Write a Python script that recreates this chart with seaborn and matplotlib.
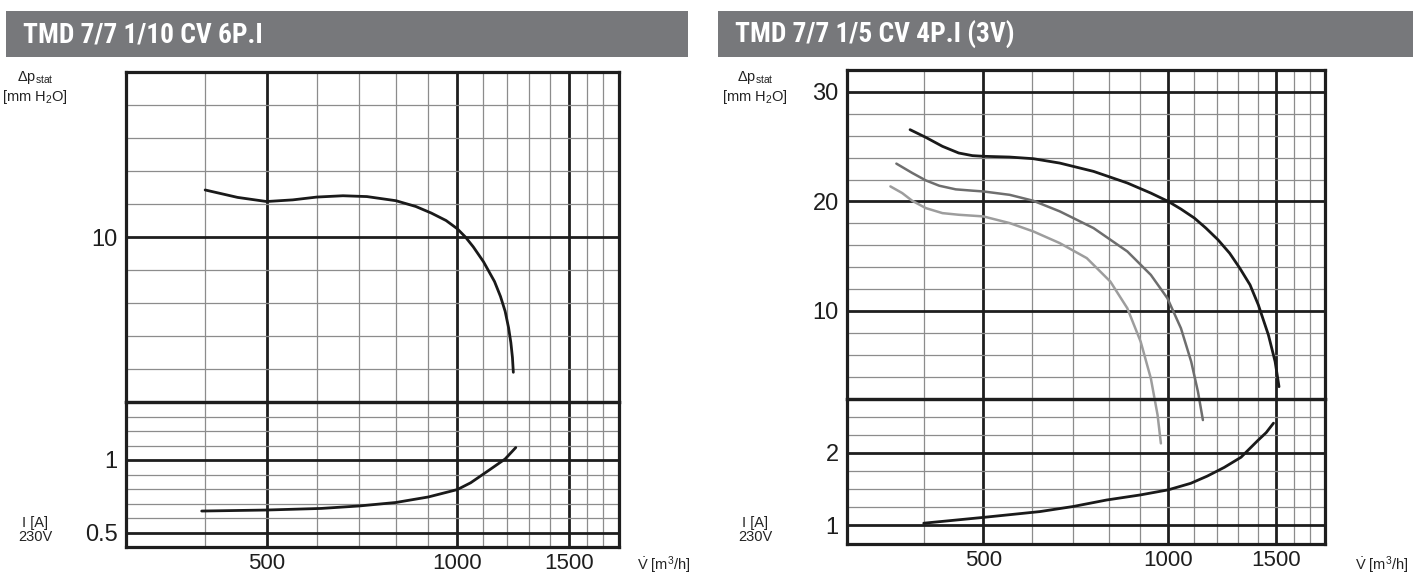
import matplotlib
matplotlib.use("Agg")
import matplotlib.pyplot as plt
from matplotlib import font_manager
from matplotlib.patches import Rectangle
from matplotlib.ticker import NullFormatter
import seaborn as sns

# ---- data -----------------------------------------------------------------
# TMD 7/7 1/10 CV 6P.I
left_flow_p = [400, 450, 500, 550, 600, 660, 720, 800, 860, 910, 960, 1000,
               1030, 1060, 1100, 1145, 1170, 1190, 1205, 1215, 1222, 1226]
left_press = [12.85, 12.4, 12.15, 12.25, 12.42, 12.5, 12.45, 12.2, 11.85, 11.45,
              11.0, 10.5, 10.0, 9.4, 8.5, 7.3, 6.4, 5.5, 4.5, 3.6, 2.7, 1.8]
left_flow_i = [395, 500, 610, 700, 800, 900, 1000, 1050, 1120, 1190, 1237]
left_current = [0.648, 0.655, 0.666, 0.683, 0.707, 0.745, 0.796, 0.843, 0.927,
                1.007, 1.086]

# TMD 7/7 1/5 CV 4P.I (3V) - three speeds
right_flow_hi = [380, 403, 429, 456, 480, 500, 552, 603, 666, 756, 858, 937,
                 1000, 1049, 1103, 1152, 1205, 1259, 1308, 1359, 1402, 1456,
                 1493, 1515]
right_press_hi = [26.55, 25.85, 25.03, 24.42, 24.18, 24.12, 24.05, 23.9, 23.5,
                  22.74, 21.68, 20.76, 20.0, 19.3, 18.48, 17.56, 16.5, 15.27,
                  13.9, 12.38, 10.55, 7.8, 5.37, 3.08]
right_flow_mid = [361, 383, 403, 424, 451, 480, 500, 552, 603, 666, 756, 858,
                  937, 997, 1049, 1090, 1118, 1139]
right_press_mid = [23.45, 22.6, 21.92, 21.43, 21.1, 20.98, 20.91, 20.6, 20.06,
                   19.09, 17.56, 15.43, 13.29, 11.16, 8.41, 5.37, 2.62, 0.03]
right_flow_lo = [353, 369, 383, 403, 429, 456, 500, 552, 603, 666, 737, 805,
                 858, 902, 937, 961, 973]
right_press_lo = [21.37, 20.76, 20.06, 19.39, 18.93, 18.78, 18.63, 18.02, 17.26,
                  16.19, 14.82, 12.68, 10.24, 7.19, 3.84, 0.49, -2.1]
right_flow_i = [400, 500, 618, 700, 794, 901, 1000, 1088, 1158, 1234, 1314,
                1399, 1444, 1484]
right_current = [1.03, 1.11, 1.19, 1.26, 1.35, 1.42, 1.49, 1.58, 1.68, 1.80,
                 1.94, 2.17, 2.28, 2.41]

titles = ["TMD 7/7 1/10 CV 6P.I", "TMD 7/7 1/5 CV 4P.I (3V)"]
flow_major = [500, 1000, 1500]
flow_minor = [400, 600, 700, 800, 900, 1100, 1200, 1300, 1400, 1600, 1700]

# ---- style ----------------------------------------------------------------
sns.set_theme(style="white")
plt.rcParams["font.family"] = ["Liberation Sans", "DejaVu Sans"]
plt.rcParams["mathtext.fontset"] = "custom"
plt.rcParams["mathtext.rm"] = "Liberation Sans"
plt.rcParams["mathtext.it"] = "Liberation Sans:italic"


def _weight(f):
    w = f.weight
    if isinstance(w, str):
        w = font_manager.weight_dict.get(w, 400)
    return w


def condensed_bold():
    """Pick a bold narrow/condensed face for the header bars."""
    prefs = ["liberation sans narrow", "roboto condensed", "open sans condensed",
             "noto sans", "dejavu sans"]
    found = {}
    for f in font_manager.fontManager.ttflist:
        label = (f.name + " " + str(f.stretch) + " " + f.fname).lower()
        if not ("narrow" in label or "condensed" in label):
            continue
        if any(k in label for k in ("extra", "ultra", "semi")):
            continue
        if f.style != "normal" or _weight(f) < 600:
            continue
        for rank, p in enumerate(prefs):
            if f.name.lower().startswith(p.split(" condensed")[0]):
                if rank not in found:
                    found[rank] = f.fname
                break
    if found:
        return font_manager.FontProperties(fname=found[min(found)])
    return font_manager.FontProperties(family="Liberation Sans", weight="bold")


W, H = 1413, 575
fig = plt.figure(figsize=(W / 100, H / 100), dpi=100)
fig.patch.set_facecolor("white")

THIN = dict(color="#8c8c8c", lw=0.9)
THICK = dict(color="#1e1e1e", lw=2.0)
YTICK_FS = 17
XTICK_FS = 16
SMALL_FS = 10.5


def px_axes(x0, y0, x1, y1):
    return fig.add_axes([x0 / W, 1 - y1 / H, (x1 - x0) / W, (y1 - y0) / H])


def style_grid(ax, ymaj, ymin, ylabels, show_x):
    ax.set_xscale("log")
    ax.set_xlim(300, 1800)
    ax.set_xticks(flow_major)
    ax.set_xticks(flow_minor, minor=True)
    ax.xaxis.set_minor_formatter(NullFormatter())
    if show_x:
        ax.set_xticklabels([str(v) for v in flow_major])
    else:
        ax.set_xticklabels([])
    ax.set_yticks(ymaj)
    ax.set_yticklabels(ylabels)
    ax.set_yticks(ymin, minor=True)
    ax.grid(which="major", **THICK)
    ax.grid(which="minor", **THIN)
    ax.set_axisbelow(True)
    ax.tick_params(which="both", length=0, colors="#1e1e1e")
    ax.tick_params(axis="x", pad=4.5, labelsize=XTICK_FS)
    ax.tick_params(axis="y", pad=6, labelsize=YTICK_FS)
    for s in ax.spines.values():
        s.set_visible(True)
        s.set_color("#1e1e1e")
        s.set_linewidth(2.3)
    ax.set_xlabel("")
    ax.set_ylabel("")


title_font = condensed_bold()
title_font.set_size(20)


def header(x0, x1, text):
    fig.patches.append(Rectangle((x0 / W, 1 - 57 / H), (x1 - x0) / W, 46 / H,
                                 transform=fig.transFigure, facecolor="#77787b",
                                 edgecolor="none", zorder=0))
    return fig.text((x0 + 17) / W, 1 - 34.5 / H, text, color="white",
                    fontproperties=title_font, va="center", ha="left")


def side_labels(cx, vx):
    kw = dict(fontsize=SMALL_FS, ha="center", va="center", color="#222222")
    fig.text(cx / W, 1 - 77 / H, r"$\Delta$p$_{\mathrm{stat}}$", **kw)
    fig.text(cx / W, 1 - 97 / H, r"[mm H$_{2}$O]", **kw)
    fig.text(cx / W, 1 - 523 / H, "I [A]", **kw)
    fig.text(cx / W, 1 - 537 / H, "230V", **kw)
    fig.text(vx / W, 1 - 565 / H, r"$\dot{\mathrm{V}}$ [m$^{3}$/h]",
             fontsize=SMALL_FS, ha="left", va="center", color="#222222")


# ---- left panel -----------------------------------------------------------
t_left = header(6, 688, titles[0])
axL_i = px_axes(126, 402, 619, 547)
axL_p = px_axes(126, 72, 619, 402)
axL_p.set_zorder(3)
axL_p.patch.set_alpha(0)

sns.lineplot(x=left_flow_p, y=left_press, ax=axL_p, color="#1a1a1a", lw=2.0,
             clip_on=False)
sns.lineplot(x=left_flow_i, y=left_current, ax=axL_i, color="#1a1a1a", lw=2.0)
axL_p.set_ylim(0, 20)
axL_i.set_ylim(0.4, 1.4)
style_grid(axL_p, [10], [2, 4, 6, 8, 12, 14, 16, 18], ["10"], False)
style_grid(axL_i, [0.5, 1.0], [0.6, 0.7, 0.8, 0.9, 1.1, 1.2, 1.3],
           ["0.5", "1"], True)
side_labels(35, 637)

# ---- right panel ----------------------------------------------------------
t_right = header(718, 1413, titles[1])
axR_i = px_axes(847, 398.5, 1325, 543.5)
axR_p = px_axes(847, 70, 1325, 398.5)
axR_p.set_zorder(3)
axR_p.patch.set_alpha(0)

sns.lineplot(x=right_flow_hi, y=right_press_hi, ax=axR_p, color="#1a1a1a",
             lw=2.0, clip_on=False)
sns.lineplot(x=right_flow_mid, y=right_press_mid, ax=axR_p, color="#6e6e6e",
             lw=1.8, clip_on=False)
sns.lineplot(x=right_flow_lo, y=right_press_lo, ax=axR_p, color="#9d9d9d",
             lw=1.8, clip_on=False)
sns.lineplot(x=right_flow_i, y=right_current, ax=axR_i, color="#1a1a1a", lw=2.0)
axR_p.set_ylim(2, 32)
axR_i.set_ylim(0.75, 2.75)
style_grid(axR_p, [10, 20, 30], [4, 6, 8, 12, 14, 16, 18, 22, 24, 26, 28],
           ["10", "20", "30"], False)
style_grid(axR_i, [1, 2], [1.25, 1.5, 1.75, 2.25, 2.5], ["1", "2"], True)
side_labels(755, 1355)

# fit the header text to the width of the left title (about 240 px)
fig.canvas.draw()
width = t_left.get_window_extent().width
size = min(22.0, 20.0 * 240.0 / width)
title_font.set_size(size)
t_left.set_fontproperties(title_font)
t_right.set_fontproperties(title_font)

fig.savefig("out.png", dpi=100)
